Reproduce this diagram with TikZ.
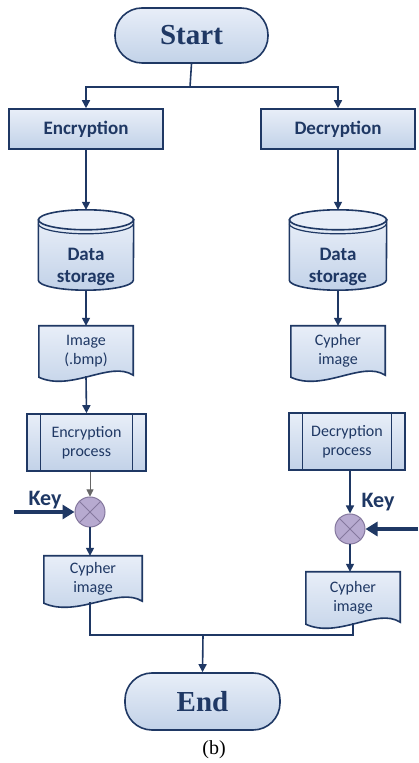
\documentclass[tikz,border=0pt]{standalone}
\usepackage{fontspec}
\setmainfont{Liberation Serif}
\newfontfamily\calfont{Carlito}
\usetikzlibrary{arrows.meta,calc,backgrounds}
\definecolor{navy}{HTML}{1F3864}
\definecolor{boxtop}{HTML}{E8EEF8}
\definecolor{boxbot}{HTML}{C2D2E8}
\definecolor{xorfill}{HTML}{B7AAD0}
\definecolor{xorline}{HTML}{85789E}
\tikzset{
  shapefill/.style={top color=boxtop, bottom color=boxbot, draw=navy, line width=1.6pt},
  term/.style={shapefill, rounded corners=27pt, minimum width=153pt, minimum height=55pt,
    font=\fontsize{29}{32}\selectfont\bfseries, text=navy},
  hbox/.style={shapefill, minimum width=154pt, minimum height=40pt,
    font=\calfont\fontsize{19}{22}\selectfont\bfseries, text=navy},
  doctext/.style={font=\calfont\fontsize{16}{19}\selectfont, text=navy, align=center, inner sep=0pt},
  cyltext/.style={font=\calfont\fontsize{19}{22}\selectfont\bfseries, text=navy, align=center, inner sep=0pt},
  procbox/.style={shapefill, font=\calfont\fontsize{16}{19}\selectfont, align=center, text=navy, inner sep=0pt},
  xor/.style={circle, minimum size=30pt, inner sep=0pt, fill=xorfill, draw=xorline, line width=1pt},
  arr/.style={draw=navy, line width=1.6pt, -{Triangle[length=8pt,width=8pt]}},
  plainline/.style={draw=navy, line width=1.6pt},
  keyarr/.style={draw=navy, line width=3.5pt, -{Triangle[length=12pt,width=14pt]}},
  thinarr/.style={draw=black!60, line width=0.8pt, -{Triangle[length=7pt,width=7pt]}},
  keytext/.style={font=\calfont\fontsize{22}{24}\selectfont\bfseries, text=navy, inner sep=0pt}
}
\newcommand\docshape[1]{%
  \path[shapefill] (#1.north west) -- (#1.north east) -- ($(#1.south east)+(0,1)$)
    .. controls ($(#1.south west)!0.76!(#1.south east)+(0,16)$) and ($(#1.south west)!0.34!(#1.south east)+(0,-16)$) ..
    ($(#1.south west)+(0,-1)$) -- cycle;}
% node body spans from 24pt below the top-ellipse centre to the bottom of the cylinder
\newcommand\cylshape[2]{%
  \path[shapefill] ($(#1.north west)+(0,24)$) -- ($(#1.south west)+(0,10)$)
    arc[start angle=180, end angle=360, x radius=#2pt, y radius=10pt]
    -- ($(#1.north east)+(0,24)$) -- cycle;
  \draw[navy, line width=1.6pt, fill=boxtop] ($(#1.north)+(0,24)$) ellipse[x radius=#2pt, y radius=10pt];
  \draw[navy, line width=1.2pt] ($(#1.north west)+(0,20)$) arc[start angle=180, end angle=360, x radius=#2pt, y radius=10pt];}
\newcommand\procshape[1]{%
  \draw[navy, line width=1.2pt] ($(#1.north west)+(14,0)$) -- ($(#1.south west)+(14,0)$)
    ($(#1.north east)+(-14,0)$) -- ($(#1.south east)+(-14,0)$);}
\begin{document}
\begin{tikzpicture}[x=1pt, y=1pt]
\useasboundingbox (0,0) rectangle (418,763);

\node[term] (start) at (191.5,727.5) {Start};
\node[term, minimum width=155pt, minimum height=57pt] (end) at (202.5,61.5) {End};

\node[hbox] (enc) at (86,634) {Encryption};
\node[hbox] (dec) at (338,634) {Decryption};

\node[cyltext, minimum width=95pt, minimum height=46pt] (cyl1) at (86,496) {Data\\storage};
\node[cyltext, minimum width=97pt, minimum height=46pt] (cyl2) at (338,496) {Data\\storage};

\node[doctext, minimum width=94pt, minimum height=50pt] (img) at (86,412) {Image\\(.bmp)};
\node[doctext, minimum width=94pt, minimum height=50pt] (cimg) at (338,412) {Cypher\\image};

\node[procbox, minimum width=119pt, minimum height=57pt] (proc1) at (86.5,320.5) {Encryption\\process};
\node[procbox, minimum width=116pt, minimum height=57pt] (proc2) at (347,321.5) {Decryption\\process};

\node[xor] (x1) at (90,251) {};
\node[xor] (x2) at (350,234) {};
\draw[xorline, line width=0.8pt] (x1.north west) -- (x1.south east) (x1.north east) -- (x1.south west);
\draw[xorline, line width=0.8pt] (x2.north west) -- (x2.south east) (x2.north east) -- (x2.south west);

\node[keytext] (key1) at (45,263) {Key};
\node[keytext] (key2) at (378,261) {Key};
\coordinate (k1) at (14,251);
\coordinate (k2) at (418,234);

\node[doctext, minimum width=98pt, minimum height=46pt] (cdoc1) at (93,184) {Cypher\\image};
\node[doctext, minimum width=94pt, minimum height=51pt] (cdoc2) at (353,165.5) {Cypher\\image};

\coordinate (split) at (190,676);
\coordinate (join) at (203,128);

\begin{scope}[on background layer]
  \fill[white] (0,0) rectangle (418,763);
  \cylshape{cyl1}{47.5}
  \cylshape{cyl2}{48.5}
  \docshape{img}
  \docshape{cimg}
  \docshape{cdoc1}
  \docshape{cdoc2}
\end{scope}
\procshape{proc1}
\procshape{proc2}

\draw[plainline] (start.south) -- (split);
\draw[arr] (split) -| (enc.north);
\draw[arr] (split) -| (dec.north);
\draw[arr] (enc.south) -- ($(cyl1.north)+(0,34)$);
\draw[arr] (dec.south) -- ($(cyl2.north)+(0,34)$);
\draw[arr] (cyl1.south) -- (img.north);
\draw[arr] (cyl2.south) -- (cimg.north);
\draw[arr] (img.south) -- (proc1.north);
\draw[thinarr] (proc1.south -| x1) -- (x1.north);
\draw[keyarr] (k1) -- (x1.west);
\draw[arr] (x1.south) -- (x1.south |- cdoc1.north);
\draw[arr] (proc2.south -| x2) -- (x2.north);
\draw[keyarr] (k2) -- (x2.east);
\draw[arr] (x2.south) -- (x2.south |- cdoc2.north);
\draw[plainline] (cdoc1.south -| x1) |- (join);
\draw[plainline] (cdoc2.south) |- (join);
\draw[arr] (join) -- (end.north);

\node[font=\fontsize{20}{22}\selectfont, inner sep=0pt] (cap) at (214,13) {(b)};
\end{tikzpicture}
\end{document}
